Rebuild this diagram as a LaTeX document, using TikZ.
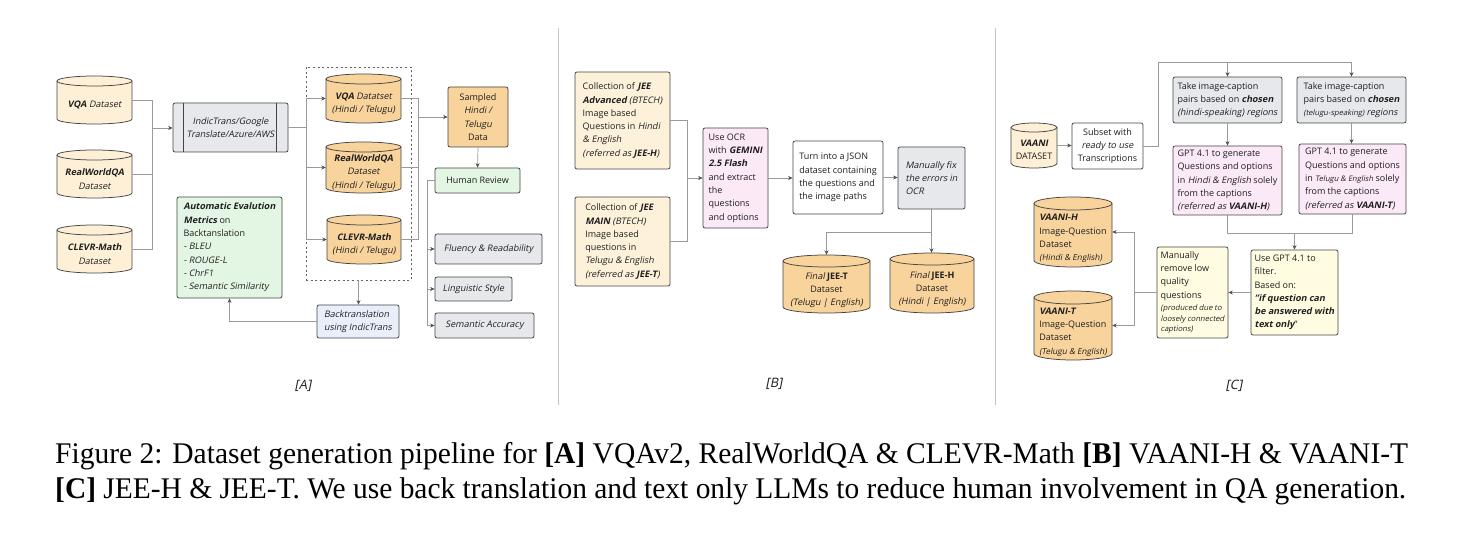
\documentclass[tikz,border=0pt]{standalone}
\usepackage{fontspec}
\setmainfont{Open Sans}[ItalicFont=*, ItalicFeatures={FakeSlant=0.2}, BoldItalicFont=* Bold, BoldItalicFeatures={FakeSlant=0.2}]
\newfontfamily\capfont{Liberation Serif}
\usetikzlibrary{arrows.meta}
\definecolor{bcol}{HTML}{454545}
\definecolor{tcol}{HTML}{1E1E1E}
\definecolor{ccol}{HTML}{9A9A9A}
\definecolor{acol}{HTML}{505050}
\definecolor{cream}{HTML}{FDF0D6}
\definecolor{orng}{HTML}{F9D39C}
\definecolor{grn}{HTML}{E3F6E4}
\definecolor{gry}{HTML}{E6E8EC}
\definecolor{pnk}{HTML}{FCE9F7}
\definecolor{blu}{HTML}{E9EFFA}
\definecolor{ylw}{HTML}{FFFCE1}
\definecolor{jeec}{HTML}{FDF1DA}
\definecolor{divc}{HTML}{C4C4C4}
\newcommand\bfit[1]{\textbf{\textit{#1}}}
\newcommand\dsz{\fontsize{9}{13.3}\selectfont}
\newcommand\ssz{\fontsize{7.6}{11}\selectfont}
\newcommand\msz{\fontsize{8.2}{12}\selectfont}
\newcommand\bx[7]{%
 \pgfmathsetmacro\bw{#4-#2}\pgfmathsetmacro\bh{#5-#3}%
 \pgfmathsetmacro\bcx{(#2+#4)/2}\pgfmathsetmacro\bcy{(#3+#5)/2}%
 \node[box, minimum width=\bw pt, minimum height=\bh pt, #6] (#1) at (\bcx,\bcy) {#7};}
\newcommand\cyl[9]{%
 \pgfmathsetmacro\crx{(#4-#2)/2}%
 \pgfmathsetmacro\ccx{(#4+#2)/2}%
 \pgfmathsetmacro\ccy{(#3+#5)/2}%
 \pgfmathsetmacro\cyt{#3+#6}%
 \pgfmathsetmacro\cyb{#5-#6}%
 \pgfmathsetmacro\cty{(#3+#5)/2+#6}%
 \pgfmathsetmacro\cw{#4-#2}%
 \pgfmathsetmacro\ch{#5-#3}%
 \filldraw[cylline, fill=#7] (#2,\cyt) -- (#2,\cyb) arc[start angle=180, end angle=360, x radius=\crx pt, y radius=#6pt] -- (#4,\cyt) arc[start angle=0, end angle=180, x radius=\crx pt, y radius=#6pt] -- cycle;
 \draw[cylline] (#2,\cyt) arc[start angle=180, end angle=360, x radius=\crx pt, y radius=#6pt];
 \node[minimum width=\cw pt, minimum height=\ch pt, inner sep=0pt] (#1) at (\ccx,\ccy) {};
 \node[cyltext, align=#8] (#1-t) at (\ccx,\cty) {#9};
}
\begin{document}
\begin{tikzpicture}[x=1pt,y=-1pt,
 box/.style={draw=bcol, line width=0.75pt, rounded corners=2pt, inner sep=0pt, font=\dsz, text=tcol},
 cylline/.style={draw=bcol, line width=0.75pt},
 cyltext/.style={inner sep=0pt, font=\dsz, text=tcol},
 conn/.style={draw=ccol, line width=0.7pt},
 arr/.style={conn, -{Stealth[length=4.5pt,width=4pt,color=acol]}},
 panel/.style={font=\fontsize{13}{15}\selectfont\itshape, text=tcol},
 capt/.style={font=\capfont\fontsize{30}{32}\selectfont, text=black, anchor=base west, inner sep=0pt}]
\fill[white] (0,0) rectangle (1461,534);
\useasboundingbox (0,0) rectangle (1461,534);
% dividers
\draw[divc, line width=0.8pt] (558,28) -- (558,405);
\draw[divc, line width=0.8pt] (995,28) -- (995,405);

% ================= Panel A =================
\cyl{vqa}{57}{76}{132}{124}{5}{cream}{center}{\bfit{VQA} \textit{Dataset}}
\cyl{rwqa}{57}{150}{132}{198}{5}{cream}{center}{\bfit{RealWorldQA}\\\textit{Dataset}}
\cyl{clevr}{57}{225}{132}{273}{5}{cream}{center}{\bfit{CLEVR-Math}\\\textit{Dataset}}
\bx{indic}{173}{103}{288}{152}{fill=gry, align=center}{\textit{IndicTrans/Google}\\\textit{Translate/Azure/AWS}}
\draw[bcol, line width=0.75pt] ([xshift=11pt]indic.north west) -- ([xshift=11pt]indic.south west);
\draw[bcol, line width=0.75pt] ([xshift=-12pt]indic.north east) -- ([xshift=-12pt]indic.south east);
\node[draw=bcol!85, line width=0.8pt, dash pattern=on 2pt off 2.6pt, minimum width=105pt, minimum height=213pt, inner sep=0pt] (grp) at (358.5,173.5) {};
\cyl{vqah}{326}{74}{401}{123}{5}{orng}{center}{\bfit{VQA} \textit{Datatset}\\\textit{(Hindi / Telugu)}}
\cyl{rwqah}{326}{142}{401}{193}{5}{orng}{center}{\bfit{RealWorldQA}\\\textit{Dataset}\\\textit{(Hindi / Telugu)}}
\cyl{clevrh}{327}{215}{401}{264}{5}{orng}{center}{\bfit{CLEVR-Math}\\\textit{(Hindi / Telugu)}}
\bx{sampled}{448}{87}{508}{147}{fill=orng, align=center}{Sampled\\\textit{Hindi /}\\\textit{Telugu}\\Data}
\bx{human}{435}{168}{520}{193}{fill=grn, align=center}{Human Review}
\bx{fluency}{435}{234}{542}{264}{fill=gry, align=center}{\textit{Fluency \& Readability}}
\bx{ling}{435}{277}{512}{301}{fill=gry, align=center}{\textit{Linguistic Style}}
\bx{seman}{435}{313}{534}{338}{fill=gry, align=center}{\textit{Semantic Accuracy}}
\bx{autoeval}{177}{197}{282}{298}{fill=grn, align=left}{\bfit{Automatic Evalution}\\\bfit{Metrics} on\\Backtanslation\\\textit{- BLEU}\\\textit{- ROUGE-L}\\\textit{- ChrF1}\\\textit{- Semantic Similarity}}
\bx{backtr}{317}{305}{399}{338}{fill=blu, align=left}{\textit{Backtranslation}\\\textit{using IndicTrans}}
\node[panel] (labA) at (303,386) {[A]};

\coordinate (aJ0) at (152,128);
\draw[conn] (vqa.east) -| (aJ0);
\draw[conn] (rwqa.east) -| (aJ0);
\draw[conn] (clevr.east) -| (aJ0);
\draw[arr] (aJ0) -- (indic.west |- aJ0);
\coordinate (aS) at (306,127.5);
\draw[conn] (indic.east) -- (aS);
\draw[arr] (aS) |- (vqah.west);
\draw[arr] (aS) |- (rwqah.west);
\draw[arr] (aS) |- (clevrh.west);
\coordinate (aJ) at (418,117);
\draw[conn] (vqah.east) -| (aJ);
\draw[conn] (rwqah.east) -| (aJ);
\draw[conn] (clevrh.east) -| (aJ);
\draw[arr] (aJ) -- (sampled.west |- aJ);
\draw[arr] (sampled.south) -- (human.north);
\coordinate (aH) at (427,180.5);
\draw[conn] (human.west) -- (aH);
\draw[arr] (aH) |- (fluency.west);
\draw[arr] (aH) |- (ling.west);
\draw[arr] (aH) |- (seman.west);
\draw[arr] (grp.south) -- (backtr.north -| grp.south);
\draw[arr] (backtr.west) -| (autoeval.south);

% ================= Panel B =================
\bx{jeeadv}{575}{72}{670}{169}{fill=jeec, align=left}{Collection of \bfit{JEE}\\\bfit{Advanced} \textit{(BTECH)}\\Image based\\Questions in \textit{Hindi}\\\textit{\& English}\\\textit{(referred as \textbf{JEE-H})}}
\bx{jeemain}{575}{197}{670}{286}{fill=jeec, align=left}{Collection of \bfit{JEE}\\\bfit{MAIN} \textit{(BTECH)}\\Image based\\questions in\\\textit{Telugu \& English}\\\textit{(referred as \textbf{JEE-T})}}
\bx{ocr}{703}{128}{768}{228}{fill=pnk, align=left}{Use OCR\\with \bfit{GEMINI}\\\bfit{2.5 Flash}\\and extract\\the\\questions\\and options}
\bx{json}{793}{141}{883}{214}{fill=white, align=left}{Turn into a JSON\\dataset containing\\the questions and\\the image paths}
\bx{fix}{898}{147}{965}{209}{fill=gry, align=left}{\textit{Manually fix}\\\textit{the errors in}\\\textit{OCR}}
\cyl{jeet}{783}{255}{870}{313}{6}{orng}{center}{\textit{Final} \textbf{JEE-T}\\Dataset\\\textit{(Telugu | English)}}
\cyl{jeeh}{890}{253}{974}{313}{6}{orng}{center}{\textit{Final} \textbf{JEE-H}\\Dataset\\\textit{(Hindi | English)}}
\node[panel] (labB) at (774,384) {[B]};

\coordinate (bJ) at (687,178);
\draw[conn] (jeeadv.east) -| (bJ);
\draw[conn] (jeemain.east) -| (bJ);
\draw[arr] (bJ) -- (ocr.west);
\draw[arr] (ocr.east) -- (json.west |- ocr.east);
\draw[arr] (json.east) -- (fix.west |- json.east);
\coordinate (bS) at (931.5,232);
\draw[conn] (fix.south) -- (bS);
\draw[arr] (bS) -| (jeet.north);
\draw[arr] (bS) -- (jeeh.north -| bS);

% ================= Panel C =================
\cyl{vaani}{1011}{123}{1057}{168}{4.5}{cream}{center}{\bfit{VAANI}\\DATASET}
\bx{subset}{1072}{123}{1143}{169}{fill=white, align=center}{Subset with\\\textit{ready to use}\\Transcriptions}
\bx{take1}{1173}{77}{1282}{123}{fill=gry, align=left}{Take image-caption\\pairs based on \bfit{chosen}\\\textit{(hindi-speaking) regions}}
\bx{take2}{1297}{77}{1406}{123}{fill=gry, align=left}{Take image-caption\\pairs based on \bfit{chosen}\\{\ssz\textit{(telugu-speaking)}} \textit{regions}}
\bx{gpt1}{1173}{146}{1282}{215}{fill=pnk, align=left}{GPT 4.1 to generate\\Questions and options\\in \textit{Hindi \& English} solely\\from the captions\\\textit{(referred as \textbf{VAANI-H})}}
\bx{gpt2}{1299}{144}{1406}{214}{fill=pnk, align=left}{GPT 4.1 to generate\\Questions and options\\in {\ssz\textit{Telugu \& English}} solely\\from the captions\\\textit{(referred as \textbf{VAANI-T})}}
\bx{filter}{1251}{250}{1338}{335}{fill=ylw, align=left}{Use GPT 4.1 to\\filter.\\Based on:\\\bfit{"if question can}\\\bfit{be answered with}\\\bfit{text only}"}
\bx{manual}{1157}{247}{1228}{338}{fill=ylw, align=left}{Manually\\remove low\\quality\\questions\\[-1pt]{\ssz\textit{(produced due to}}\\[-2.5pt]{\ssz\textit{loosely connected}}\\[-2.5pt]{\ssz\textit{captions)}}}
\cyl{vaanih}{1034}{197}{1112}{267}{6.5}{orng}{left}{\bfit{VAANI-H}\\Image-Question\\Dataset\\{\msz\textit{(Hindi \& English)}}}
\cyl{vaanit}{1034}{291}{1112}{360}{6.5}{orng}{left}{\bfit{VAANI-T}\\Image-Question\\Dataset\\{\msz\textit{(Telugu \& English)}}}
\node[panel] (labC) at (1234,386) {[C]};

\draw[arr] (vaani.east) -- (subset.west |- vaani.east);
\coordinate (cT) at (1158,62);
\draw[arr] (subset.east) -| (cT) -| (take2.north);
\draw[arr] (take1.north |- cT) -- (take1.north);
\draw[arr] (take1.south) -- (gpt1.north);
\draw[arr] (take2.south) -- (gpt2.north -| take2.south);
\coordinate (cM) at (1294.5,233);
\draw[conn] (gpt1.south) |- (cM);
\draw[conn] (gpt2.south) |- (cM);
\draw[arr] (cM) -- (filter.north);
\draw[arr] (filter.west) -- (manual.east |- filter.west);
\coordinate (cL) at (1134,292.5);
\draw[conn] (manual.west) -- (cL);
\draw[arr] (cL) |- (vaanih.east);
\draw[arr] (cL) |- (vaanit.east);

% ================= Caption =================
\node[capt] (cap1) at (55,463) {\resizebox{1353pt}{\height}{Figure 2: Dataset generation pipeline for \textbf{[A]} VQAv2, RealWorldQA \& CLEVR-Math \textbf{[B]} VAANI-H \& VAANI-T}};
\node[capt] (cap2) at (55,498) {\resizebox{1351pt}{\height}{\textbf{[C]} JEE-H \& JEE-T. We use back translation and text only LLMs to reduce human involvement in QA generation.}};
\end{tikzpicture}
\end{document}
